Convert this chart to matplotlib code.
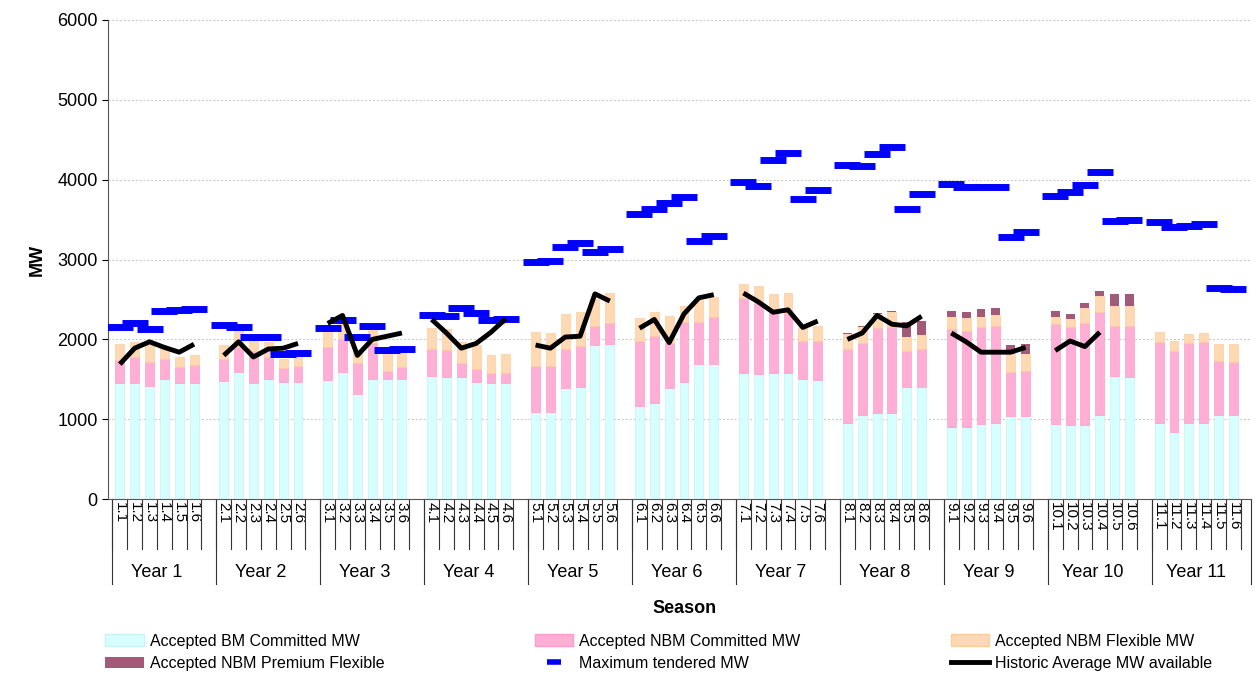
import numpy as np
import matplotlib.pyplot as plt
from matplotlib.patches import Patch
from matplotlib.lines import Line2D

plt.rcParams["font.family"] = ["Liberation Sans", "DejaVu Sans"]

years = ["Year %d" % i for i in range(1, 12)]
seasons = ["%d.%d" % (y, s) for y in range(1, 12) for s in range(1, 7)]

# cumulative tops, per season (MW)
bm_top = [1450, 1450, 1420, 1500, 1460, 1450,
          1480, 1590, 1450, 1510, 1470, 1470,
          1490, 1590, 1320, 1510, 1500, 1500,
          1540, 1530, 1530, 1470, 1450, 1450,
          1090, 1090, 1390, 1400, 1930, 1940,
          1170, 1200, 1390, 1470, 1690, 1690,
          1580, 1570, 1580, 1580, 1500, 1490,
          960, 1050, 1080, 1080, 1400, 1400,
          910, 900, 940, 950, 1040, 1040,
          940, 930, 930, 1060, 1540, 1530,
          950, 840, 950, 960, 1060, 1060]
nbm_top = [1740, 1780, 1720, 1750, 1650, 1680,
           1750, 1910, 1860, 1780, 1640, 1670,
           1900, 2000, 1700, 1950, 1600, 1650,
           1880, 1870, 1700, 1630, 1580, 1580,
           1670, 1670, 1880, 1920, 2170, 2200,
           1980, 2040, 1960, 2220, 2220, 2280,
           2520, 2460, 2340, 2330, 1980, 1980,
           1880, 1960, 2140, 2160, 1860, 1880,
           2130, 2100, 2150, 2170, 1590, 1610,
           2190, 2160, 2200, 2340, 2170, 2170,
           1970, 1860, 1960, 1970, 1730, 1720]
flex_top = [1940, 1970, 1930, 1900, 1780, 1800,
            1930, 2100, 1980, 1970, 1750, 1790,
            2100, 2220, 1850, 2130, 1830, 1840,
            2140, 2130, 1970, 1930, 1800, 1820,
            2090, 2080, 2320, 2340, 2500, 2580,
            2270, 2340, 2290, 2420, 2490, 2530,
            2690, 2670, 2570, 2580, 2150, 2170,
            2070, 2160, 2320, 2340, 2030, 2050,
            2280, 2270, 2280, 2300, 1820, 1820,
            2280, 2260, 2390, 2540, 2420, 2420,
            2090, 1980, 2070, 2080, 1940, 1940]
premium = [0] * 42 + [10, 10, 10, 10, 190, 180,
                      80, 70, 100, 90, 110, 120,
                      70, 60, 70, 70, 150, 150] + [0] * 6
max_tendered = [2150, 2200, 2130, 2360, 2370, 2380,
                2180, 2150, 2030, 2030, 1820, 1830,
                2140, 2240, 2030, 2170, 1870, 1880,
                2310, 2290, 2390, 2330, 2240, 2260,
                2970, 2980, 3160, 3210, 3090, 3130,
                3570, 3630, 3710, 3780, 3230, 3300,
                3970, 3920, 4240, 4330, 3760, 3870,
                4180, 4170, 4320, 4410, 3630, 3820,
                3940, 3910, 3910, 3910, 3280, 3340,
                3800, 3850, 3930, 4090, 3480, 3490,
                3470, 3410, 3420, 3440, 2640, 2630]
historic = [[1690, 1890, 1970, 1900, 1840, 1940],
            [1800, 1970, 1780, 1880, 1890, 1950],
            [2200, 2300, 1800, 2000, 2040, 2080],
            [2250, 2080, 1890, 1950, 2090, 2260],
            [1930, 1890, 2030, 2040, 2570, 2480],
            [2140, 2250, 1960, 2320, 2520, 2560],
            [2580, 2470, 2340, 2370, 2150, 2230],
            [2000, 2080, 2300, 2190, 2170, 2290],
            [2080, 1970, 1840, 1840, 1840, 1900],
            [1860, 1980, 1910, 2090],
            []]

bm = np.array(bm_top)
nbm = np.array(nbm_top) - bm
flex = np.array(flex_top) - np.array(nbm_top)
prem = np.array(premium)

x = np.array([(i // 6) * 7 + i % 6 for i in range(66)])

fig = plt.figure(figsize=(12.55, 6.82), dpi=100)
ax = fig.add_axes([0.086, 0.268, 0.911, 0.703])

w = 0.6
ax.bar(x, bm, w, color="#d8ffff", edgecolor="#c4f4f4", linewidth=0.5, zorder=2)
ax.bar(x, nbm, w, bottom=bm, color="#ffaed6", edgecolor="#ff9cc8", linewidth=0.5, zorder=2)
ax.bar(x, flex, w, bottom=bm + nbm, color="#ffd8b4", edgecolor="#ffcc9c", linewidth=0.5, zorder=2)
ax.bar(x, prem, w, bottom=bm + nbm + flex, color="#a35a78", linewidth=0, zorder=2)

ax.plot(x, max_tendered, ls="none", marker="_", markersize=19, mew=5,
        color="#0000ff", zorder=4)

for yi, vals in enumerate(historic):
    if vals:
        ax.plot(np.arange(len(vals)) + yi * 7, vals, color="black", lw=3.5,
                zorder=5, solid_capstyle="butt")

ax.set_xlim(-0.8, 76.2)
ax.set_ylim(0, 6000)
ax.set_yticks(range(0, 6001, 1000))
ax.tick_params(axis="y", labelsize=13, length=4)
ax.yaxis.grid(True, ls=(0, (2, 2)), color="#c4c4c4", lw=0.7)
ax.set_axisbelow(True)
ax.set_ylabel("MW", fontsize=13, fontweight="bold", labelpad=8)
for s in ["top", "right"]:
    ax.spines[s].set_visible(False)
ax.spines["left"].set_color("#555555")
ax.spines["bottom"].set_color("#555555")

ax.set_xticks(x)
ax.set_xticklabels(seasons, rotation=270, fontsize=11)
ax.tick_params(axis="x", length=0, pad=2)

trans = ax.get_xaxis_transform()
ax_h = 479.0
for yi in range(11):
    for s in range(7):
        bx = yi * 7 + s - 0.5
        ax.plot([bx, bx], [0, -50 / ax_h], transform=trans, color="#333333",
                lw=0.8, clip_on=False)
    ax.plot([yi * 7 - 0.5] * 2, [0, -85 / ax_h], transform=trans,
            color="#333333", lw=0.8, clip_on=False)
    ax.text(yi * 7 + 2.5, -73 / ax_h, years[yi], transform=trans,
            ha="center", va="center", fontsize=13)
ax.plot([76.2] * 2, [0, -85 / ax_h], transform=trans, color="#333333",
        lw=0.8, clip_on=False)
ax.text(38, -109 / ax_h, "Season", transform=trans, ha="center",
        va="center", fontsize=13, fontweight="bold")

handles = [Patch(facecolor="#d8ffff", edgecolor="#c4f4f4"),
           Patch(facecolor="#ffaed6", edgecolor="#ff9cc8"),
           Patch(facecolor="#ffd8b4", edgecolor="#ffcc9c"),
           Patch(facecolor="#a35a78"),
           Line2D([], [], color="#0000ff", marker="_", ls="none", markersize=10, mew=4),
           Line2D([], [], color="black", lw=3.5)]
labels = ["Accepted BM Committed MW", "Accepted NBM Committed MW",
          "Accepted NBM Flexible MW", "Accepted NBM Premium Flexible",
          "Maximum tendered MW", "Historic Average MW available"]
order = [0, 3, 1, 4, 2, 5]
fig.legend([handles[i] for i in order], [labels[i] for i in order],
           ncol=3, loc="lower left", bbox_to_anchor=(0.075, 0.0, 0.9, 0.1),
           mode="expand", frameon=False, fontsize=11.5, handlelength=2.4,
           handletextpad=0.4, labelspacing=0.45, borderaxespad=0.3)

fig.savefig("out.png", dpi=100)
